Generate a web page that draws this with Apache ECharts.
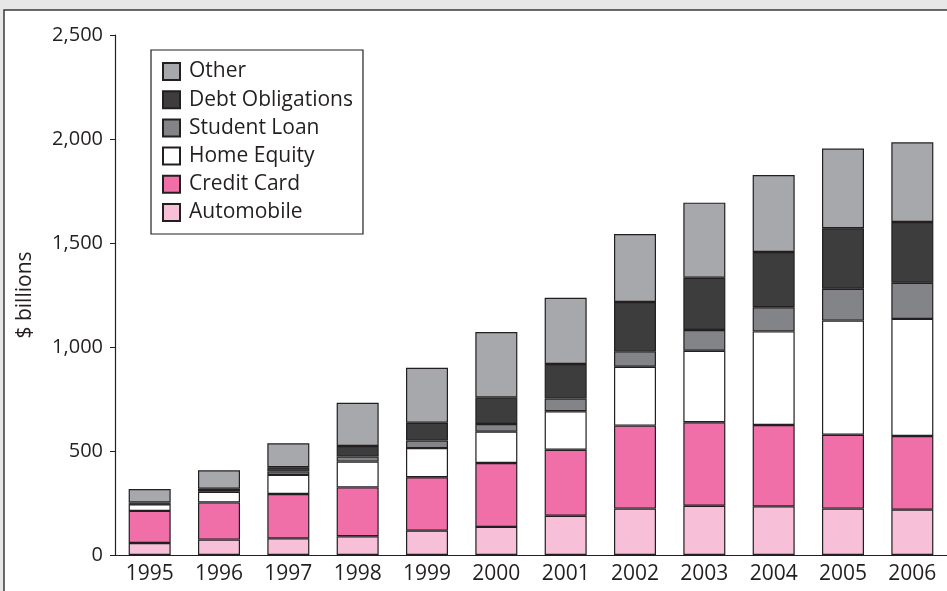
<!DOCTYPE html>
<html>
<head>
<meta charset="utf-8">
<script src="https://cdn.jsdelivr.net/npm/echarts@6/dist/echarts.min.js"></script>
<style>
  html, body { margin: 0; padding: 0; background: #e7e7e8; }
  #chartBar { width: 947px; height: 591px; }
</style>
</head>
<body>
<div id="chartBar"></div>
<script>
// years on the x axis
const years = ["1995", "1996", "1997", "1998", "1999", "2000", "2001", "2002", "2003", "2004", "2005", "2006"];
// $ billions, stacked bottom to top
const automobile = [58, 74, 80, 90, 117, 135, 189, 223, 237, 234, 223, 218];
const creditCard = [154, 179, 213, 235, 257, 307, 317, 399, 401, 391, 355, 354];
const homeEquity = [32, 51, 92, 124, 140, 151, 185, 283, 344, 450, 549, 563];
const studentLoan = [2, 8, 17, 24, 36, 37, 61, 74, 100, 116, 153, 174];
const debtObligations = [7, 7, 20, 51, 86, 128, 166, 237, 251, 266, 291, 292];
const other = [64, 88, 115, 208, 264, 314, 319, 327, 361, 370, 383, 383];
const legendOrder = ["Other", "Debt Obligations", "Student Loan", "Home Equity", "Credit Card", "Automobile"];

const ink = "#231f20";
const font = "'Open Sans', 'Noto Sans', sans-serif";

function layer(name, data, color) {
  return {
    name: name,
    type: "bar",
    stack: "total",
    barWidth: 42,
    data: data,
    itemStyle: {color: color, borderColor: ink, borderWidth: 1.2},
    emphasis: {disabled: true}
  };
}

const chartBar = echarts.init(document.getElementById("chartBar"));
chartBar.setOption({
  backgroundColor: "#e7e7e8",
  animation: false,
  textStyle: {fontFamily: font, color: ink},
  graphic: [{
    type: "rect",
    z: -10,
    silent: true,
    shape: {x: 4, y: 10, width: 1000, height: 700},
    style: {fill: "#ffffff", stroke: "#3a3a3a", lineWidth: 1.5}
  }],
  legend: {
    data: legendOrder,
    orient: "vertical",
    left: 151,
    top: 50,
    padding: [11, 10, 11, 11],
    icon: "rect",
    itemWidth: 17,
    itemHeight: 17,
    itemGap: 7.2,
    borderColor: ink,
    borderWidth: 1.2,
    backgroundColor: "#ffffff",
    textStyle: {fontSize: 21, color: ink, fontFamily: font, padding: [0, 0, 0, 4]}
  },
  grid: {left: 115, right: 0, top: 35, bottom: 36, containLabel: false},
  xAxis: {
    type: "category",
    data: years,
    axisLine: {lineStyle: {color: ink, width: 1.2}},
    axisTick: {length: 5, lineStyle: {color: ink}},
    axisLabel: {fontSize: 21, color: ink, margin: 9, fontFamily: font}
  },
  yAxis: {
    type: "value",
    min: 0,
    max: 2500,
    interval: 500,
    name: "$ billions",
    nameLocation: "middle",
    nameGap: 79,
    nameTextStyle: {fontSize: 21, color: ink, fontFamily: font},
    axisLine: {show: true, lineStyle: {color: ink, width: 1.2}},
    axisTick: {show: true, length: 5, lineStyle: {color: ink}},
    splitLine: {show: false},
    axisLabel: {
      fontSize: 20, color: ink, margin: 12, fontFamily: font,
      formatter: function (v) { return v.toLocaleString("en-US"); }
    }
  },
  series: [
    layer("Automobile", automobile, "#f7c0d8"),
    layer("Credit Card", creditCard, "#f06fa8"),
    layer("Home Equity", homeEquity, "#ffffff"),
    layer("Student Loan", studentLoan, "#838487"),
    layer("Debt Obligations", debtObligations, "#3d3d3d"),
    layer("Other", other, "#a7a8ab")
  ]
});
</script>
</body>
</html>
